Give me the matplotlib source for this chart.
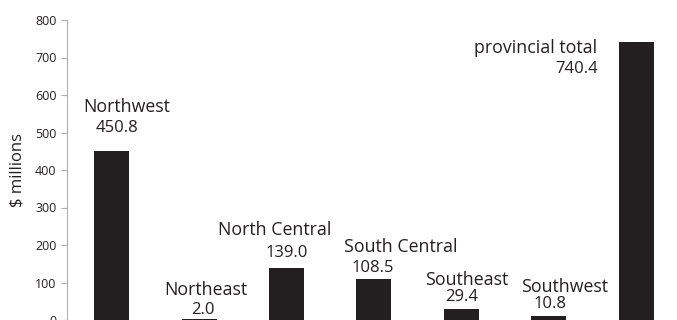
import matplotlib.pyplot as plt

# Data
regions = ['Northwest', 'Northeast', 'North Central', 'South Central',
           'Southeast', 'Southwest', 'provincial total']
values = [450.8, 2.0, 139.0, 108.5, 29.4, 10.8, 740.4]
yticks = [0, 100, 200, 300, 400, 500, 600, 700, 800]

# label placement (pixels relative to bar top centre): name dx, name dy, value dx, value dy
label_offsets = [
    (15, 44, 5, 23),
    (7, 29, 4, 9),
    (-12, 38, 0, 15),
    (27, 32, -1, 11),
    (5, 29, 0, 12),
    (16, 29, 1, 12),
]

plt.rcParams['font.family'] = ['Open Sans', 'DejaVu Sans']
dark = '#231f20'

fig = plt.figure(figsize=(6.77, 3.2), dpi=100)
ax = fig.add_axes([67 / 677, 0, 613 / 677, 300 / 320])

x = list(range(len(regions)))
ax.bar(x, values, width=0.4, color=dark)

ax.set_xlim(-0.51, 6.5)
ax.set_ylim(0, 800)
ax.set_yticks(yticks)
ax.set_xticks([])
ax.tick_params(axis='y', colors='#b0b0b0', labelcolor=dark, labelsize=9,
               length=4, width=0.8)
for side in ['top', 'right', 'bottom']:
    ax.spines[side].set_visible(False)
ax.spines['left'].set_color('#b0b0b0')
ax.spines['left'].set_linewidth(0.8)
ax.set_ylabel('$ millions', fontsize=12, color=dark, labelpad=7)

name_size = 12.8
value_size = 12

for i, (name, val) in enumerate(zip(regions[:-1], values[:-1])):
    ndx, ndy, vdx, vdy = label_offsets[i]
    ax.annotate(name, (i, val), xytext=(ndx, ndy), textcoords='offset pixels',
                ha='center', va='center', fontsize=name_size, color=dark)
    ax.annotate(f'{val:.1f}', (i, val), xytext=(vdx, vdy), textcoords='offset pixels',
                ha='center', va='center', fontsize=value_size, color=dark)

# provincial total label sits left of its bar
last = len(regions) - 1
ax.annotate(regions[last], (last - 0.2, values[last]), xytext=(-22, -6),
            textcoords='offset pixels', ha='right', va='center', fontsize=name_size, color=dark)
ax.annotate(f'{values[last]:.1f}', (last - 0.2, values[last]), xytext=(-21, -27),
            textcoords='offset pixels', ha='right', va='center', fontsize=value_size, color=dark)

fig.savefig('out.png', dpi=100)
